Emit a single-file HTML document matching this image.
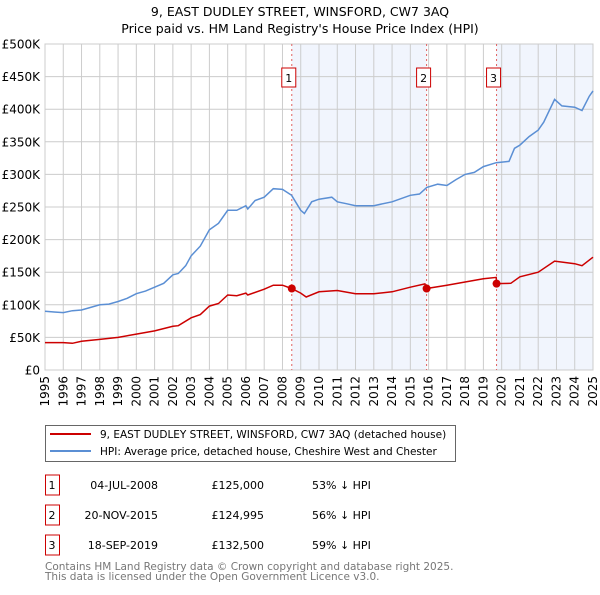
<!DOCTYPE html>
<html><head><meta charset="utf-8"><style>
body{margin:0;background:#fff;font-family:"Liberation Sans","DejaVu Sans",sans-serif;}
svg text{font-family:"DejaVu Sans","Liberation Sans",sans-serif;}
</style></head><body>
<svg id="chart" width="600" height="590" xmlns="http://www.w3.org/2000/svg">
<text x="300" y="16" text-anchor="middle" font-size="12.5">9, EAST DUDLEY STREET, WINSFORD, CW7 3AQ</text>
<text x="300" y="33" text-anchor="middle" font-size="12.5">Price paid vs. HM Land Registry's House Price Index (HPI)</text>
<g id="plot"></g>
<g>
<rect x="45.5" y="425.5" width="410" height="36" fill="#fff" stroke="#666"/>
<line x1="50" y1="434" x2="91" y2="434" stroke="#cc0000" stroke-width="2"/>
<text x="100" y="438" font-size="10.5">9, EAST DUDLEY STREET, WINSFORD, CW7 3AQ (detached house)</text>
<line x1="50" y1="451" x2="91" y2="451" stroke="#5b8fd4" stroke-width="2"/>
<text x="100" y="455" font-size="10.5">HPI: Average price, detached house, Cheshire West and Chester</text>
</g>
<g id="table"></g>
<text x="45" y="570" font-size="10.5" fill="#777">Contains HM Land Registry data © Crown copyright and database right 2025.</text>
<text x="45" y="580" font-size="10.5" fill="#777">This data is licensed under the Open Government Licence v3.0.</text>
</svg>
<script>
const hpiYears=[1995,1995.5,1996,1996.5,1997,1997.5,1998,1998.5,1999,1999.5,2000,2000.5,2001,2001.5,2002,2002.3,2002.7,2003,2003.5,2004,2004.5,2005,2005.5,2006,2006.1,2006.5,2007,2007.5,2008,2008.5,2009,2009.2,2009.6,2010,2010.7,2011,2011.5,2012,2013,2014,2015,2015.5,2015.9,2016.5,2017,2017.5,2018,2018.5,2019,2019.7,2020.4,2020.7,2021,2021.5,2022,2022.3,2022.9,2023.3,2024,2024.4,2024.8,2025];
const hpiValues=[90,89,88,91,92,96,100,101,105,110,117,121,127,133,146,148,160,175,190,215,225,245,245,252,247,260,265,278,277,268,245,240,258,262,265,258,255,252,252,258,268,270,280,285,283,292,300,303,312,318,320,340,345,358,368,380,415,405,403,398,420,428];
const redYears=[1995,1996,1996.5,1997,1998,1999,2000,2001,2002,2002.3,2003,2003.5,2004,2004.5,2005,2005.5,2006,2006.1,2007,2007.5,2008,2008.5,2009,2009.3,2010,2011,2012,2013,2014,2015,2015.8,2015.89,2017,2018,2019,2019.7,2019.72,2020.5,2021,2022,2022.9,2024,2024.4,2025];
const redValues=[42,42,41,44,47,50,55,60,67,68,80,85,98,102,115,114,118,115,124,130,130,125,118,112,120,122,117,117,120,127,132,125,130,135,140,142,132.5,133,143,150,167,163,160,173];
const saleYears=[2008.51,2015.89,2019.72];
const saleValues=[125,124.995,132.5];
const saleLabels=["1","2","3"];
const saleDates=["04-JUL-2008","20-NOV-2015","18-SEP-2019"];
const salePrices=["£125,000","£124,995","£132,500"];
const saleDiffs=["53% ↓ HPI","56% ↓ HPI","59% ↓ HPI"];
const yTicks=[0,50,100,150,200,250,300,350,400,450,500];
const yTickLabels=["£0","£50K","£100K","£150K","£200K","£250K","£300K","£350K","£400K","£450K","£500K"];
const xTicks=[1995,1996,1997,1998,1999,2000,2001,2002,2003,2004,2005,2006,2007,2008,2009,2010,2011,2012,2013,2014,2015,2016,2017,2018,2019,2020,2021,2022,2023,2024,2025];

const X0=45,X1=593,Y0=370,Y1=44;
const xs=y=>X0+(y-1995)/(2025-1995)*(X1-X0);
const ys=v=>Y0-v/500*(Y0-Y1);
const NS="http://www.w3.org/2000/svg";
const plot=document.getElementById('plot');
function mk(tag,attrs,parent){const e=document.createElementNS(NS,tag);for(const k in attrs)e.setAttribute(k,attrs[k]);(parent||plot).appendChild(e);return e;}

let sh=mk('rect',{x:xs(saleYears[0]),y:Y1,width:xs(saleYears[1])-xs(saleYears[0]),height:Y0-Y1,fill:'#eef3fd',opacity:0.8});


let sh2=mk('rect',{x:xs(saleYears[2]),y:Y1,width:X1-xs(saleYears[2]),height:Y0-Y1,fill:'#eef3fd',opacity:0.8});



xTicks.forEach((t,i)=>{
 const g=mk('line',{x1:xs(t),x2:xs(t),y1:Y1,y2:Y0,stroke:'#ccc','stroke-width':1});
 
 
 const lb=mk('text',{x:0,y:0,'font-size':12,'text-anchor':'end',transform:`translate(${xs(t)+4},${Y0+6}) rotate(-90)`});
 lb.textContent=t;
 
 
});
yTicks.forEach((t,i)=>{
 const g=mk('line',{x1:X0,x2:X1,y1:ys(t),y2:ys(t),stroke:'#ccc','stroke-width':1});
 
 
 const lb=mk('text',{x:40,y:ys(t)+4.5,'font-size':12,'text-anchor':'end'});
 lb.textContent=yTickLabels[i];
 
 
});
const fr=mk('rect',{x:X0,y:Y1,width:X1-X0,height:Y0-Y1,fill:'none',stroke:'#ccc'});



saleYears.forEach((s,i)=>{
 const l=mk('line',{x1:xs(s),x2:xs(s),y1:Y1,y2:Y0,stroke:'#e06060','stroke-dasharray':'2,3','stroke-width':1});
 
 
 const b=mk('rect',{x:xs(s)-10,y:68,width:14,height:19,fill:'#fff',stroke:'#cc0000'});
 
 
 const t=mk('text',{x:xs(s)-3,y:82,'font-size':11,'text-anchor':'middle'});
 t.textContent=saleLabels[i];
 
 
});

function path(xa,va){return xa.map((x,i)=>(i?'L':'M')+xs(x).toFixed(1)+','+ys(va[i]).toFixed(1)).join('');}
const hp=mk('path',{d:path(hpiYears,hpiValues),fill:'none',stroke:'#5b8fd4','stroke-width':1.5});


const rp=mk('path',{d:path(redYears,redValues),fill:'none',stroke:'#cc0000','stroke-width':1.5});


saleYears.forEach((s,i)=>{
 const c=mk('circle',{cx:xs(s),cy:ys(saleValues[i]),r:4,fill:'#cc0000'});
 
 
});

const tb=document.getElementById('table');
saleLabels.forEach((lab,i)=>{
 const y=483+i*30;
 const b=mk('rect',{x:45.5,y:y-8,width:14,height:20,fill:'#fff',stroke:'#cc0000'},tb);
 
 
 const cells=[[52,lab,'middle'],[158,saleDates[i],'end'],[264,salePrices[i],'end'],[312,saleDiffs[i],'start']];
 cells.forEach(c=>{
  const t=mk('text',{x:c[0],y:y+6,'font-size':11,'text-anchor':c[2]},tb);
  t.textContent=c[1];
  
  
 });
});
</script>
</body></html>
